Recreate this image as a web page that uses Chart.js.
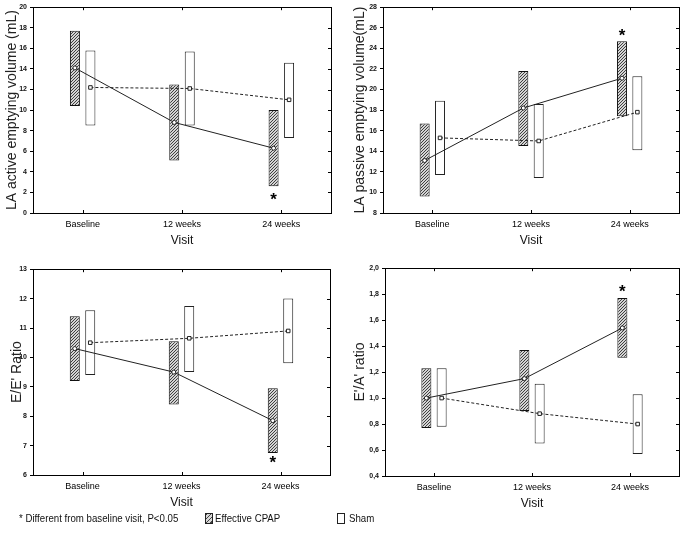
<!DOCTYPE html>
<html>
<head>
<meta charset="utf-8">
<script src="https://cdn.jsdelivr.net/npm/chart.js@4.4.0/dist/chart.umd.min.js"></script>
<style>
  body { margin: 0; background: #fff; width: 684px; height: 541px; position: relative; overflow: hidden;
         font-family: 'Liberation Sans', Arial, sans-serif; color: #111; }
  canvas { position: absolute; }
  .legend { position: absolute; top: 511px; font-size: 11px; line-height: 14px; white-space: nowrap;
            transform: scaleX(0.88); transform-origin: left center; }
  .box { position: absolute; top: 513px; width: 6px; height: 9px; border: 1px solid #222; }
  .hatched { background: repeating-linear-gradient(135deg, #444 0 1px, #d8d8d8 1px 3px); }
</style>
</head>
<body>
<canvas id="c1" width="342" height="255" style="left:0;top:0"></canvas>
<canvas id="c2" width="342" height="255" style="left:342px;top:0"></canvas>
<canvas id="c3" width="342" height="255" style="left:0;top:262px"></canvas>
<canvas id="c4" width="342" height="257" style="left:342px;top:261px"></canvas>

<div class="legend" style="left:19px">* Different from baseline visit, P&lt;0.05</div>
<div class="box hatched" style="left:205px"></div>
<div class="legend" style="left:215px">Effective CPAP</div>
<div class="box" style="left:337px;background:#fff"></div>
<div class="legend" style="left:349px">Sham</div>

<script>
const visits = ['Baseline', '12 weeks', '24 weeks'];

// LA active emptying volume (mL)
const activeCpapMean = [14.1, 8.8, 6.3];
const activeCpapLow  = [10.4, 5.1, 2.6];
const activeCpapHigh = [17.7, 12.5, 10.0];
const activeShamMean = [12.2, 12.1, 11.0];
const activeShamLow  = [8.5, 8.5, 7.3];
const activeShamHigh = [15.8, 15.7, 14.6];
const activeStar = [null, null, 1.6];
const activeRange = [0, 20, 2];

// LA passive emptying volume (mL)
const passiveCpapMean = [13.1, 18.2, 21.1];
const passiveCpapLow  = [9.6, 14.5, 17.4];
const passiveCpapHigh = [16.7, 21.8, 24.7];
const passiveShamMean = [15.3, 15.0, 17.8];
const passiveShamLow  = [11.7, 11.4, 14.1];
const passiveShamHigh = [18.9, 18.6, 21.3];
const passiveStar = [null, null, 25.5];
const passiveRange = [8, 28, 2];

// E/E' ratio
const eeCpapMean = [10.3, 9.5, 7.85];
const eeCpapLow  = [9.2, 8.4, 6.75];
const eeCpapHigh = [11.4, 10.55, 8.95];
const eeShamMean = [10.5, 10.65, 10.9];
const eeShamLow  = [9.4, 9.5, 9.8];
const eeShamHigh = [11.6, 11.75, 12.0];
const eeStar = [null, null, 6.5];
const eeRange = [6, 13, 1];

// E'/A' ratio
const eaCpapMean = [1.0, 1.15, 1.54];
const eaCpapLow  = [0.77, 0.90, 1.31];
const eaCpapHigh = [1.23, 1.37, 1.77];
const eaShamMean = [1.0, 0.88, 0.80];
const eaShamLow  = [0.78, 0.65, 0.57];
const eaShamHigh = [1.23, 1.11, 1.03];
const eaStar = [null, null, 1.84];
const eaRange = [0.4, 2.0, 0.2];

const FONT = "'Liberation Sans', Arial, sans-serif";
const OFF = 0.078; // half distance between the two bars of a visit, in category units

function hatchPattern() {
  const c = document.createElement('canvas');
  c.width = 3; c.height = 3;
  const g = c.getContext('2d');
  g.fillStyle = '#d4d4d4';
  g.fillRect(0, 0, 3, 3);
  g.fillStyle = '#404040';
  g.fillRect(2, 0, 1, 1);
  g.fillRect(1, 1, 1, 1);
  g.fillRect(0, 2, 1, 1);
  return g.createPattern(c, 'repeat');
}

// frame round the plot, inward ticks on the right/top/bottom, and the significance stars
function framePlugin(stars) {
  return {
    id: 'frame',
    afterDatasetsDraw(chart) {
      const { ctx, chartArea: a, scales: { x, y } } = chart;
      ctx.save();
      ctx.strokeStyle = '#000';
      ctx.lineWidth = 1;
      ctx.strokeRect(Math.round(a.left) + 0.5, Math.round(a.top) + 0.5, Math.round(a.width), Math.round(a.height));
      ctx.beginPath();
      y.ticks.forEach(t => {
        const py = Math.round(y.getPixelForValue(t.value)) + 0.5;
        ctx.moveTo(a.right - 3, py); ctx.lineTo(a.right, py);
      });
      x.ticks.forEach(t => {
        const px = Math.round(x.getPixelForValue(t.value)) + 0.5;
        ctx.moveTo(px, a.top); ctx.lineTo(px, a.top + 3);
        ctx.moveTo(px, a.bottom - 3); ctx.lineTo(px, a.bottom);
      });
      ctx.stroke();
      ctx.fillStyle = '#000';
      ctx.font = 'bold 17px "Liberation Sans", Arial, sans-serif';
      ctx.textAlign = 'center';
      ctx.textBaseline = 'alphabetic';
      stars.forEach((v, i) => {
        if (v === null) return;
        ctx.fillText('*', x.getPixelForValue(i + 0.5 - OFF), y.getPixelForValue(v) + 8);
      });
      ctx.restore();
    }
  };
}

function panel(id, p) {
  const hatch = hatchPattern();
  new Chart(document.getElementById(id), {
    type: 'bar',
    data: {
      datasets: [
        {
          type: 'line', order: 0,
          data: p.cpapMean.map((v, i) => ({ x: i + 0.5 - OFF, y: v })),
          borderColor: '#222', borderWidth: 1, tension: 0,
          pointStyle: 'circle', pointRadius: 2, pointBorderWidth: 1,
          pointBackgroundColor: '#fff', pointBorderColor: '#222'
        },
        {
          type: 'line', order: 0,
          data: p.shamMean.map((v, i) => ({ x: i + 0.5 + OFF, y: v })),
          borderColor: '#222', borderWidth: 1, borderDash: [3, 2], tension: 0,
          pointStyle: 'rect', pointRadius: 2.5, pointBorderWidth: 1,
          pointBackgroundColor: '#fff', pointBorderColor: '#222'
        },
        {
          order: 1, grouped: false, maxBarThickness: 10, borderSkipped: false,
          data: p.cpapLow.map((v, i) => ({ x: i + 0.5 - OFF, y: [v, p.cpapHigh[i]] })),
          backgroundColor: hatch, borderColor: '#111', borderWidth: 1
        },
        {
          order: 1, grouped: false, maxBarThickness: 10, borderSkipped: false,
          data: p.shamLow.map((v, i) => ({ x: i + 0.5 + OFF, y: [v, p.shamHigh[i]] })),
          backgroundColor: '#fff', borderColor: '#222', borderWidth: 1
        }
      ]
    },
    options: {
      responsive: false,
      animation: false,
      events: [],
      layout: { padding: { left: 0, right: p.padRight, top: p.padTop, bottom: 0 } },
      plugins: { legend: { display: false }, tooltip: { enabled: false } },
      scales: {
        x: {
          type: 'linear', min: 0, max: 3, offset: false,
          afterBuildTicks: s => { s.ticks = visits.map((_, i) => ({ value: i + 0.5 })); },
          ticks: {
            callback: v => visits[Math.round(v - 0.5)],
            font: { size: 9, family: FONT }, color: '#000', padding: 6,
            maxRotation: 0, autoSkip: false
          },
          grid: { display: false, drawTicks: false },
          border: { display: false },
          title: { display: true, text: 'Visit', font: { size: 12, family: FONT }, color: '#111',
                   padding: { top: 0, bottom: 7 } },
          afterFit: s => { s.height = 42; }
        },
        y: {
          min: p.range[0], max: p.range[1],
          ticks: {
            stepSize: p.range[2],
            callback: p.fmt,
            font: { size: 7, family: FONT, weight: 'bold' }, color: '#111', padding: 3
          },
          grid: { drawOnChartArea: false, tickLength: 3, color: '#000' },
          border: { display: false },
          title: { display: true, text: p.title, color: '#222',
                   font: { size: 14, family: FONT },
                   padding: { top: p.titlePad, bottom: 0 } },
          afterFit: s => { s.width = p.axisWidth; }
        }
      }
    },
    plugins: [framePlugin(p.star)]
  });
}

const intFmt = v => String(Math.round(v));
const commaFmt = v => v.toFixed(1).replace('.', ',');

panel('c1', {
  cpapMean: activeCpapMean, cpapLow: activeCpapLow, cpapHigh: activeCpapHigh,
  shamMean: activeShamMean, shamLow: activeShamLow, shamHigh: activeShamHigh,
  star: activeStar, range: activeRange, fmt: intFmt,
  title: 'LA active emptying volume (mL)',
  axisWidth: 33, padRight: 11, padTop: 6, titlePad: 4
});
panel('c2', {
  cpapMean: passiveCpapMean, cpapLow: passiveCpapLow, cpapHigh: passiveCpapHigh,
  shamMean: passiveShamMean, shamLow: passiveShamLow, shamHigh: passiveShamHigh,
  star: passiveStar, range: passiveRange, fmt: intFmt,
  title: 'LA passive emptying volume(mL)',
  axisWidth: 41, padRight: 4, padTop: 6, titlePad: 10
});
panel('c3', {
  cpapMean: eeCpapMean, cpapLow: eeCpapLow, cpapHigh: eeCpapHigh,
  shamMean: eeShamMean, shamLow: eeShamLow, shamHigh: eeShamHigh,
  star: eeStar, range: eeRange, fmt: intFmt,
  title: "E/E' Ratio",
  axisWidth: 33, padRight: 12, padTop: 7, titlePad: 9
});
panel('c4', {
  cpapMean: eaCpapMean, cpapLow: eaCpapLow, cpapHigh: eaCpapHigh,
  shamMean: eaShamMean, shamLow: eaShamLow, shamHigh: eaShamHigh,
  star: eaStar, range: eaRange, fmt: commaFmt,
  title: "E'/A' ratio",
  axisWidth: 43, padRight: 4, padTop: 7, titlePad: 10
});
</script>
</body>
</html>
